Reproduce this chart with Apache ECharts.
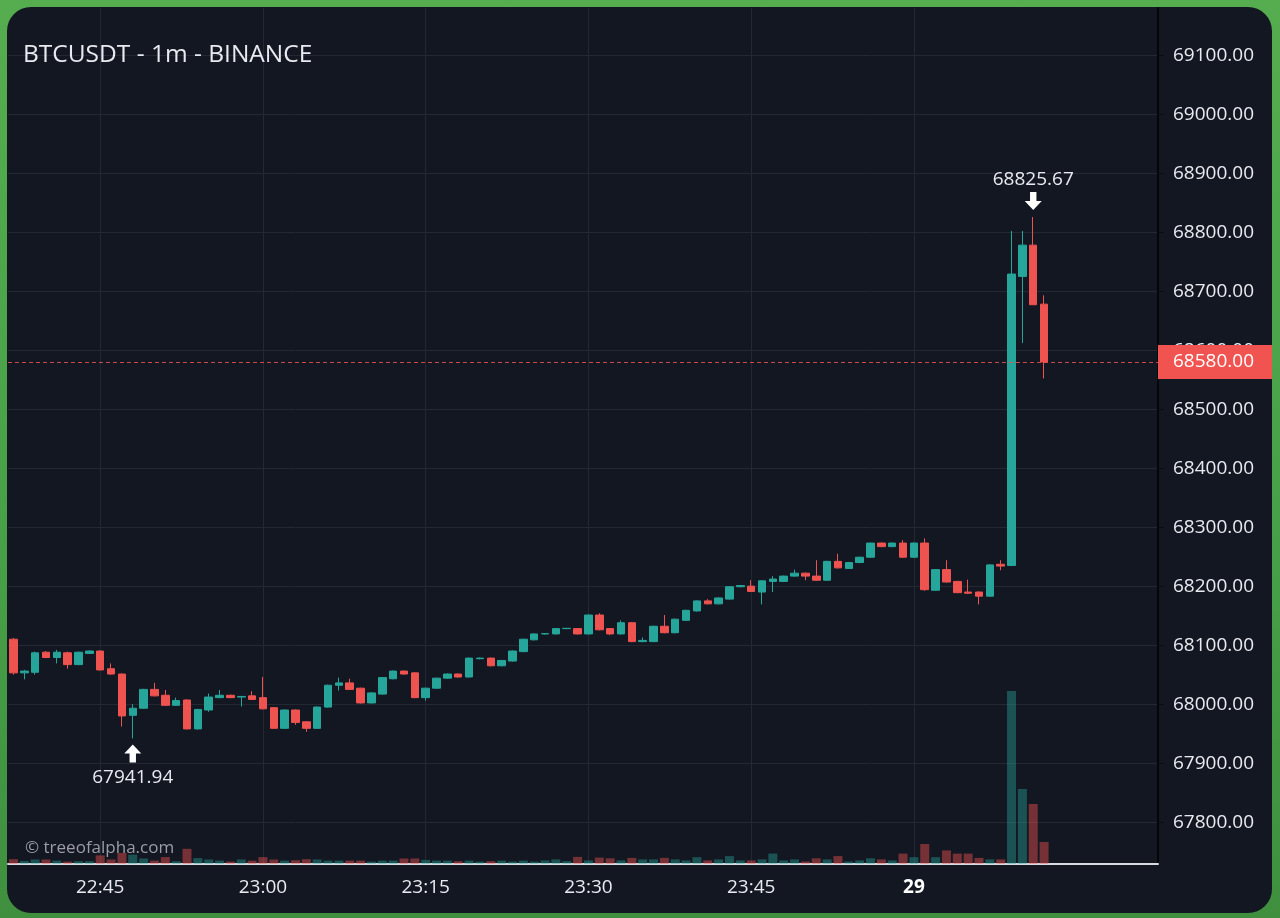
<!DOCTYPE html>
<html>
<head>
<meta charset="utf-8">
<title>BTCUSDT - 1m - BINANCE</title>
<script src="https://cdn.jsdelivr.net/npm/echarts/dist/echarts.min.js"></script>
<style>
  html, body { margin: 0; padding: 0; width: 1280px; height: 918px; overflow: hidden;
    background: linear-gradient(180deg, #55ad4f 0%, #47a047 60%, #3f8f3f 100%); }
  #panel { position: absolute; left: 7px; top: 7px; width: 1265px; height: 906px;
    border-radius: 24px; background: #131722; }
  #chart { position: absolute; left: 0; top: 0; width: 1280px; height: 918px; }
</style>
</head>
<body>
<div id="panel"></div>
<div id="chart"></div>
<script>
// Category labels (1-minute candles, plus empty slots to the right)
const times = [
  '22:37','22:38','22:39','22:40','22:41','22:42','22:43','22:44','22:45','22:46',
  '22:47','22:48','22:49','22:50','22:51','22:52','22:53','22:54','22:55','22:56',
  '22:57','22:58','22:59','23:00','23:01','23:02','23:03','23:04','23:05','23:06',
  '23:07','23:08','23:09','23:10','23:11','23:12','23:13','23:14','23:15','23:16',
  '23:17','23:18','23:19','23:20','23:21','23:22','23:23','23:24','23:25','23:26',
  '23:27','23:28','23:29','23:30','23:31','23:32','23:33','23:34','23:35','23:36',
  '23:37','23:38','23:39','23:40','23:41','23:42','23:43','23:44','23:45','23:46',
  '23:47','23:48','23:49','23:50','23:51','23:52','23:53','23:54','23:55','23:56',
  '23:57','23:58','23:59','00:00','00:01','00:02','00:03','00:04','00:05','00:06',
  '00:07','00:08','00:09','00:10','00:11','00:12','00:13','00:14','00:15','00:16',
  '00:17','00:18','00:19','00:20','00:21','00:22'
];

const opens = [
  68110,68053,68054,68088,68079,68087,68067,68086,68090,68060,
  68051,67981,67993,68025,68015,67998,68007,67958,67990,68011,
  68015,68012,68014,68011,67994,67959,67990,67970,67959,67995,
  68032,68036,68027,68002,68017,68043,68056,68053,68011,68027,
  68044,68051,68046,68077,68078,68065,68073,68089,68109,68119,
  68119,68128,68128,68119,68151,68128,68119,68138,68106,68106,
  68132,68121,68142,68158,68175,68170,68178,68199,68200,68190,
  68208,68208,68217,68222,68217,68210,68242,68230,68240,68249,
  68273,68267,68273,68249,68273,68193,68228,68208,68190,68190,
  68183,68237,68235,68725,68778,68678
];
const highs = [
  68112,68058,68089,68090,68092,68089,68089,68091,68091,68069,
  68052,68000,68026,68036,68024,68011,68008,67992,68018,68024,
  68016,68014,68022,68046,67995,67991,67991,67971,67996,68033,
  68045,68043,68028,68020,68046,68057,68057,68054,68028,68045,
  68052,68052,68079,68079,68079,68075,68091,68111,68120,68120,
  68129,68129,68129,68152,68154,68129,68142,68139,68113,68133,
  68151,68145,68160,68176,68178,68181,68200,68202,68210,68210,
  68217,68218,68228,68223,68244,68243,68255,68241,68250,68274,
  68274,68274,68278,68274,68281,68229,68244,68209,68211,68191,
  68237,68244,68802,68802,68825.67,68693
];
const lows = [
  68050,68042,68050,68078,68069,68060,68066,68085,68057,68050,
  67962,67941.94,67992,68013,67997,67997,67957,67957,67987,68010,
  68010,67996,68007,67991,67958,67958,67965,67953,67958,67994,
  68023,68024,68001,68001,68016,68042,68050,68010,68006,68026,
  68043,68045,68045,68076,68064,68064,68072,68088,68108,68118,
  68118,68127,68118,68118,68125,68117,68118,68105,68105,68105,
  68120,68120,68141,68157,68169,68169,68177,68198,68190,68169,
  68190,68207,68216,68210,68209,68209,68230,68229,68239,68248,
  68266,68266,68248,68248,68192,68192,68206,68188,68187,68169,
  68182,68227,68234,68612,68677,68552
];
const closes = [
  68053,68056,68087,68079,68088,68067,68088,68090,68058,68051,
  67980,67993,68025,68014,67998,68006,67958,67991,68012,68015,
  68011,68013,68008,67992,67959,67990,67969,67959,67995,68032,
  68036,68025,68002,68019,68045,68056,68051,68011,68027,68044,
  68051,68046,68078,68078,68065,68074,68090,68110,68119,68119.5,
  68128,68128.5,68119,68151,68126,68119,68138,68106,68108,68132,
  68121,68144,68159,68175,68170,68180,68199,68201,68191,68209,
  68212,68217,68222,68217,68210,68242,68231,68240,68249,68273,
  68267,68273,68249,68273,68194,68228,68207,68189,68188,68183,
  68236,68234,68729,68778,68677,68580
];
const volumes = [
  48,31,45,45,34,24,28,28,86,45,
  110,93,55,34,69,28,152,59,45,34,
  24,45,34,69,45,34,38,48,45,34,
  34,34,34,24,34,34,55,55,41,34,
  34,28,34,24,28,34,24,34,24,36,
  46,29,71,36,64,57,36,61,46,46,
  61,46,36,68,36,46,79,36,36,46,
  104,36,46,25,57,46,79,25,36,57,
  46,36,104,68,200,68,136,104,104,61,
  46,46,1730,750,600,220
];
const priceTicks = ['67800.00','67900.00','68000.00','68100.00','68200.00','68300.00','68400.00',
  '68500.00','68600.00','68700.00','68800.00','68900.00','69000.00','69100.00'];

const UP = '#26a69a', DOWN = '#ef5350';
const FONT = "'Open Sans', 'Noto Sans', sans-serif";

const ohlc = opens.map((o, i) => [o, closes[i], lows[i], highs[i]]);
const volData = volumes.map((v, i) => ({
  value: v,
  itemStyle: { color: closes[i] >= opens[i] ? 'rgba(38,166,154,0.42)' : 'rgba(239,83,80,0.45)' }
}));

let lowIdx = 0, highIdx = 0;
lows.forEach((v, i) => { if (v < lows[lowIdx]) lowIdx = i; });
highs.forEach((v, i) => { if (v > highs[highIdx]) highIdx = i; });
const lastClose = closes[closes.length - 1];

// time marks only where there is data (every 15 minutes)
const isMark = (idx, val) => idx < opens.length && /:(00|15|30|45)$/.test(val);

const upArrow = 'path://M8,0 L16,9 L11,9 L11,18 L5,18 L5,9 L0,9 Z';
const downArrow = 'path://M5,0 L11,0 L11,9 L16,9 L8,18 L0,9 L5,9 Z';

const chart = echarts.init(document.getElementById('chart'), null, { renderer: 'canvas' });
chart.setOption({
  backgroundColor: 'transparent',
  animation: false,
  textStyle: { fontFamily: FONT },
  title: [
    { text: 'BTCUSDT - 1m - BINANCE', left: 23, top: 43, padding: 0,
      textStyle: { color: '#e8eaef', fontSize: 24.5, fontWeight: 'normal', fontFamily: FONT } },
    { text: '© treeofalpha.com', left: 25, top: 840, padding: 0,
      textStyle: { color: '#9a9da6', fontSize: 17, fontWeight: 'normal', fontFamily: FONT } }
  ],
  grid: { left: 8, right: 122, top: 8, bottom: 54 },
  xAxis: {
    type: 'category', data: times, boundaryGap: true,
    axisLine: { lineStyle: { color: '#d9dbe1', width: 2 } },
    axisTick: { alignWithLabel: true, interval: isMark, length: 5, lineStyle: { color: '#d9dbe1', width: 2 } },
    axisLabel: {
      interval: isMark, margin: 14, color: '#e8eaef', fontSize: 19, fontFamily: FONT,
      formatter: v => v === '00:00' ? '{b|29}' : v,
      rich: { b: { fontWeight: 'bold', fontSize: 19, color: '#ffffff', fontFamily: FONT } }
    },
    splitLine: { show: true, alignWithLabel: true, interval: isMark, lineStyle: { color: '#242833', width: 1 } }
  },
  yAxis: [
    {
      type: 'value', position: 'right', min: 67729, max: 69180, scale: true,
      splitNumber: 14, minInterval: 100, maxInterval: 100,
      axisLine: { show: true, lineStyle: { color: '#050608', width: 2 } },
      axisTick: { show: true, length: 6, lineStyle: { color: '#0b0d12', width: 1 } },
      axisLabel: {
        margin: 15, color: '#e8eaef', fontSize: 19, fontFamily: FONT,
        showMinLabel: false, showMaxLabel: false,
        formatter: v => priceTicks.includes(v.toFixed(2)) ? v.toFixed(2) : ''
      },
      splitLine: { show: true, showMinLine: false, showMaxLine: false, lineStyle: { color: '#242833', width: 1 } }
    },
    { type: 'value', show: false, min: 0, max: 8560, splitLine: { show: false } }
  ],
  series: [
    {
      type: 'bar', name: 'Volume', data: volData, yAxisIndex: 1, barWidth: 9, z: 1, silent: true
    },
    {
      type: 'candlestick', name: 'BTCUSDT', data: ohlc, barWidth: 8, z: 3,
      itemStyle: { color: UP, color0: DOWN, borderColor: UP, borderColor0: DOWN, borderWidth: 1 },
      markLine: {
        silent: true, symbol: ['none', 'none'], animation: false,
        data: [{ yAxis: lastClose }],
        lineStyle: { color: 'rgba(239,83,80,0.85)', type: [4, 3], width: 1 },
        label: {
          show: true, position: 'end', distance: 0, formatter: lastClose.toFixed(2),
          backgroundColor: '#f05350', color: '#ffffff', fontSize: 19, fontFamily: FONT,
          padding: [7, 18, 7, 15], lineHeight: 20
        }
      },
      markPoint: {
        silent: true, animation: false,
        data: [
          { coord: [lowIdx, lows[lowIdx]], symbol: upArrow, symbolSize: [17, 18], symbolOffset: [0, 15],
            itemStyle: { color: '#ffffff' },
            label: { show: true, position: 'bottom', distance: 6, formatter: lows[lowIdx].toFixed(2),
              color: '#e8eaef', fontSize: 19, fontFamily: FONT } },
          { coord: [highIdx, highs[highIdx]], symbol: downArrow, symbolSize: [17, 18], symbolOffset: [0, -16],
            itemStyle: { color: '#ffffff' },
            label: { show: true, position: 'top', distance: 3, formatter: highs[highIdx].toFixed(2),
              color: '#e8eaef', fontSize: 19, fontFamily: FONT } }
        ]
      }
    }
  ]
});
</script>
</body>
</html>
